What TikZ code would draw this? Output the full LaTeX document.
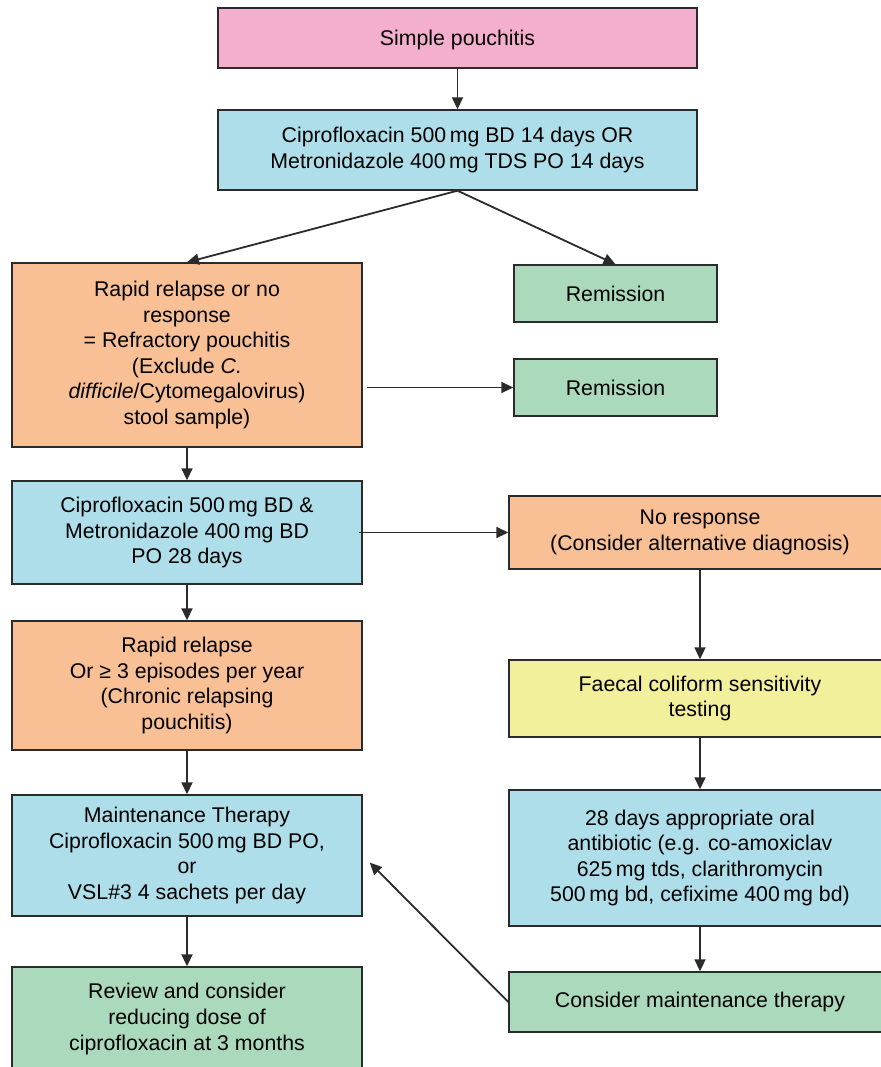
\documentclass[tikz,border=0pt]{standalone}
\usepackage{fontspec}
\setmainfont{Liberation Sans}
\usepackage{tikz}
\usetikzlibrary{
  positioning, arrows.meta, calc,
}
\definecolor{cPouch}  {HTML}{F4AECE}
\definecolor{cDrug}   {HTML}{AEDEEA}
\definecolor{cFail}   {HTML}{F9BF95}
\definecolor{cRemit}  {HTML}{AAD9BB}
\definecolor{cTest}   {HTML}{F2F09A}
\definecolor{cEdge}   {HTML}{2B2B2B}

\begin{document}
\begin{tikzpicture}[x=1pt, y=-1pt,
    flowbox/.style={draw=cEdge, line width=1.4pt, align=center, inner sep=0pt,
      font=\fontsize{21.3}{25.6}\selectfont},
    link/.style={draw=cEdge, line width=1.8pt, -{Triangle[length=12pt,width=11pt]}}]
  \useasboundingbox (0,0) rectangle (880,1067);

  % left column
  \node[flowbox, fill=cPouch, minimum width=479pt, minimum height=60pt, text depth=0pt] (simple) at (457.5,38)
    {Simple pouchitis};
  \node[flowbox, fill=cDrug, minimum width=479pt, minimum height=80pt] (firstline) at (457.5,150)
    {Ciprofloxacin 500\,mg BD 14 days OR\\Metronidazole 400\,mg TDS PO 14 days};
  \node[flowbox, fill=cFail, minimum width=350pt, minimum height=184pt] (refract) at (187,355)
    {Rapid relapse or no\\response\\= Refractory pouchitis\\(Exclude \textit{C.}\\\textit{difficile}/Cytomegalovirus)\\stool sample)};
  \node[flowbox, fill=cDrug, minimum width=350pt, minimum height=103pt] (combo) at (187,532.5)
    {Ciprofloxacin 500\,mg BD \&\\Metronidazole 400\,mg BD\\PO 28 days};
  \node[flowbox, fill=cFail, minimum width=350pt, minimum height=129pt] (chronic) at (187,685.5)
    {Rapid relapse\\Or ≥ 3 episodes per year\\(Chronic relapsing\\pouchitis)};
  \node[flowbox, fill=cDrug, minimum width=350pt, minimum height=121pt] (maint) at (187,855.5)
    {Maintenance Therapy\\Ciprofloxacin 500\,mg BD PO,\\or\\VSL\#3 4 sachets per day};
  \node[flowbox, fill=cRemit, minimum width=350pt, minimum height=104pt] (review) at (187,1019)
    {Review and consider\\reducing dose of\\ciprofloxacin at 3 months};

  % right column
  \node[flowbox, fill=cRemit, minimum width=203pt, minimum height=57pt] (remitA) at (615.5,293.5)
    {Remission};
  \node[flowbox, fill=cRemit, minimum width=203pt, minimum height=57pt] (remitB) at (615.5,387.5)
    {Remission};
  \node[flowbox, fill=cFail, minimum width=382pt, minimum height=73pt] (noresp) at (700,532.5)
    {No response\\(Consider alternative diagnosis)};
  \node[flowbox, fill=cTest, minimum width=382pt, minimum height=77pt] (faecal) at (700,698.5)
    {Faecal coliform sensitivity\\testing};
  \node[flowbox, fill=cDrug, minimum width=382pt, minimum height=136pt] (oralabx) at (700,858)
    {28 days appropriate oral\\antibiotic (e.g. co-amoxiclav\\625\,mg tds, clarithromycin\\500\,mg bd, cefixime 400\,mg bd)};
  \node[flowbox, fill=cRemit, minimum width=382pt, minimum height=60pt] (consider) at (700,1002)
    {Consider maintenance therapy};

  % connectors
  \draw[link] (simple) -- (firstline);
  \draw[link] (firstline.south) -- (refract.north);
  \draw[link] (firstline.south) -- (remitA.north);
  \draw[link, shorten <=4pt] (refract.east |- remitB.west) -- (remitB.west);
  \draw[link] (refract) -- (combo);
  \draw[link, shorten <=-4pt] (combo.east) -- (noresp.west);
  \draw[link] (combo) -- (chronic);
  \draw[link] (chronic) -- (maint);
  \draw[link] (maint) -- (review);
  \draw[link] (noresp) -- (faecal);
  \draw[link] (faecal) -- (oralabx);
  \draw[link] (oralabx) -- (consider);
  \draw[link, shorten >=10pt] (consider.west) -- (maint.east);
\end{tikzpicture}
\end{document}
